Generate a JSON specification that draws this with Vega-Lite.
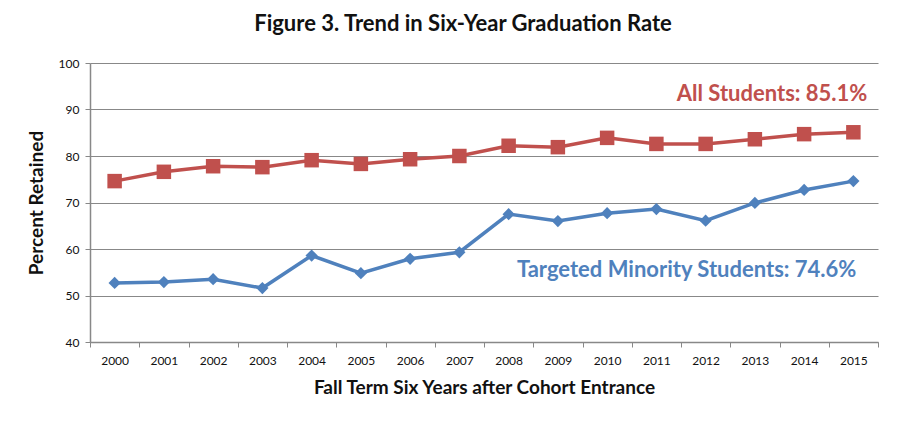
{
  "$schema": "https://vega.github.io/schema/vega-lite/v6.json",
  "width": 788,
  "height": 279,
  "autosize": {"type": "none"},
  "padding": {"left": 90, "top": 63, "right": 22, "bottom": 98},
  "background": "white",
  "config": {"view": {"stroke": null}, "font": "Lato"},
  "title": {"text": "Figure 3. Trend in Six-Year Graduation Rate", "fontSize": 22, "fontWeight": "bold", "color": "#111", "anchor": "middle", "dx": -21, "offset": 21, "font": "Lato"},
  "datasets": {
    "series": [
      {"year": "2000", "series": "All Students", "value": 74.6},
      {"year": "2001", "series": "All Students", "value": 76.6},
      {"year": "2002", "series": "All Students", "value": 77.8},
      {"year": "2003", "series": "All Students", "value": 77.6},
      {"year": "2004", "series": "All Students", "value": 79.1},
      {"year": "2005", "series": "All Students", "value": 78.3},
      {"year": "2006", "series": "All Students", "value": 79.3},
      {"year": "2007", "series": "All Students", "value": 80.0},
      {"year": "2008", "series": "All Students", "value": 82.2},
      {"year": "2009", "series": "All Students", "value": 81.9},
      {"year": "2010", "series": "All Students", "value": 83.9},
      {"year": "2011", "series": "All Students", "value": 82.6},
      {"year": "2012", "series": "All Students", "value": 82.6},
      {"year": "2013", "series": "All Students", "value": 83.6},
      {"year": "2014", "series": "All Students", "value": 84.7},
      {"year": "2015", "series": "All Students", "value": 85.1},
      {"year": "2000", "series": "Targeted Minority Students", "value": 52.7},
      {"year": "2001", "series": "Targeted Minority Students", "value": 52.9},
      {"year": "2002", "series": "Targeted Minority Students", "value": 53.5},
      {"year": "2003", "series": "Targeted Minority Students", "value": 51.6},
      {"year": "2004", "series": "Targeted Minority Students", "value": 58.6},
      {"year": "2005", "series": "Targeted Minority Students", "value": 54.8},
      {"year": "2006", "series": "Targeted Minority Students", "value": 57.9},
      {"year": "2007", "series": "Targeted Minority Students", "value": 59.3},
      {"year": "2008", "series": "Targeted Minority Students", "value": 67.5},
      {"year": "2009", "series": "Targeted Minority Students", "value": 66.0},
      {"year": "2010", "series": "Targeted Minority Students", "value": 67.7},
      {"year": "2011", "series": "Targeted Minority Students", "value": 68.6},
      {"year": "2012", "series": "Targeted Minority Students", "value": 66.1},
      {"year": "2013", "series": "Targeted Minority Students", "value": 69.9},
      {"year": "2014", "series": "Targeted Minority Students", "value": 72.7},
      {"year": "2015", "series": "Targeted Minority Students", "value": 74.6}
    ],
    "labels": [
      {"year": "2015", "series": "All Students", "value": 93.4, "label": "All Students: 85.1%"},
      {"year": "2015", "series": "Targeted Minority Students", "value": 55.5, "label": "Targeted Minority Students: 74.6%"}
    ]
  },
  "encoding": {
    "x": {
      "field": "year", "type": "ordinal",
      "scale": {"type": "band", "paddingInner": 0, "paddingOuter": 0},
      "axis": {
        "title": "Fall Term Six Years after Cohort Entrance",
        "titleFontSize": 19, "titleFontWeight": "bold", "titleColor": "#111", "titlePadding": 12, "titleFont": "Lato",
        "labelAngle": 0, "labelFontSize": 12, "labelColor": "#111", "labelPadding": 8, "labelFont": "Lato",
        "tickBand": "extent", "tickColor": "#888", "tickSize": 5,
        "domainColor": "#888", "domainWidth": 1.5, "grid": false
      }
    },
    "y": {
      "field": "value", "type": "quantitative",
      "scale": {"domain": [40, 100], "nice": false},
      "axis": {
        "title": "Percent Retained", "values": [40, 50, 60, 70, 80, 90, 100],
        "titleFontSize": 19, "titleFontWeight": "bold", "titleColor": "#111", "titlePadding": 12, "titleFont": "Lato",
        "labelFontSize": 12, "labelColor": "#111", "labelPadding": 6, "labelFont": "Lato",
        "tickColor": "#888", "tickSize": 5,
        "domainColor": "#888", "domainWidth": 1.5,
        "grid": true, "gridColor": "#888", "gridWidth": 1.2
      }
    },
    "color": {
      "field": "series", "type": "nominal",
      "scale": {"domain": ["All Students", "Targeted Minority Students"], "range": ["#C0504D", "#4F81BD"]},
      "legend": null
    }
  },
  "layer": [
    {
      "data": {"name": "series"},
      "mark": {"type": "line", "strokeWidth": 3.5},
      "encoding": {"detail": {"field": "series"}}
    },
    {
      "data": {"name": "series"},
      "transform": [{"filter": "datum.series == 'All Students'"}],
      "mark": {"type": "point", "shape": "square", "filled": true, "size": 210, "opacity": 1}
    },
    {
      "data": {"name": "series"},
      "transform": [{"filter": "datum.series == 'Targeted Minority Students'"}],
      "mark": {"type": "point", "shape": "diamond", "filled": true, "size": 150, "opacity": 1}
    },
    {
      "data": {"name": "labels"},
      "transform": [{"filter": "datum.series == 'All Students'"}],
      "mark": {"type": "text", "align": "right", "baseline": "middle", "fontSize": 22, "fontWeight": "bold", "font": "Lato", "dx": 14},
      "encoding": {"text": {"field": "label"}}
    },
    {
      "data": {"name": "labels"},
      "transform": [{"filter": "datum.series == 'Targeted Minority Students'"}],
      "mark": {"type": "text", "align": "right", "baseline": "middle", "fontSize": 22, "fontWeight": "bold", "font": "Lato", "dx": 3},
      "encoding": {"text": {"field": "label"}}
    }
  ]
}
